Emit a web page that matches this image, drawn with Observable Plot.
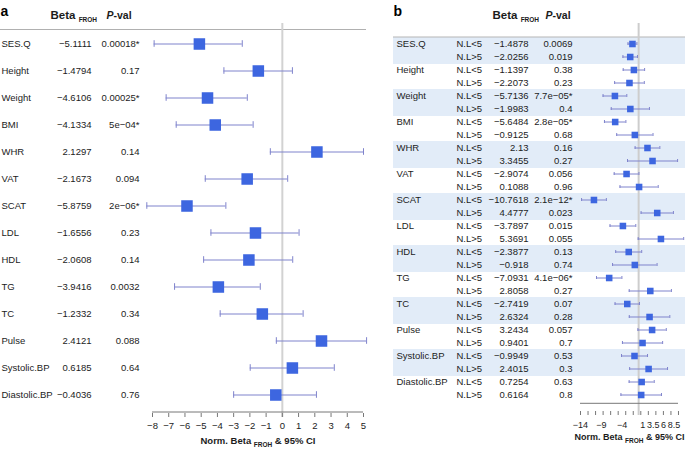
<!DOCTYPE html>
<html><head><meta charset="utf-8">
<script src="https://cdn.jsdelivr.net/npm/d3@7"></script>
<script src="https://cdn.jsdelivr.net/npm/@observablehq/plot@0.6"></script>
<style>
body{margin:0;background:#fff;}
#wrap{position:relative;width:685px;height:449px;overflow:hidden;font-family:"Liberation Sans",Arial,sans-serif;}
#pa{position:absolute;left:0;top:0;}
#pb{position:absolute;left:385px;top:0;}
</style></head><body><div id="wrap"><div id="pa"></div><div id="pb"></div></div>
<script>
// ---------- Panel a data ----------
const traitsA = ["SES.Q","Height","Weight","BMI","WHR","VAT","SCAT","LDL","HDL","TG","TC","Pulse","Systolic.BP","Diastolic.BP"];
const betaA = [-5.1111,-1.4794,-4.6106,-4.1334,2.1297,-2.1673,-5.8759,-1.6556,-2.0608,-3.9416,-1.2332,2.4121,0.6185,-0.4036];
const pvalA = ["0.00018*","0.17","0.00025*","5e\u221204*","0.14","0.094","2e\u221206*","0.23","0.14","0.0032","0.34","0.088","0.64","0.76"];
const loA = [-7.9,-3.6,-7.16,-6.54,-0.74,-4.75,-8.35,-4.4,-4.85,-6.64,-3.83,-0.37,-1.98,-3.0];
const hiA = [-2.47,0.62,-2.16,-1.8,5.0,0.33,-3.48,1.03,0.64,-1.36,1.28,5.19,3.2,2.1];
const ticksA = [-8,-7,-6,-5,-4,-3,-2,-1,0,1,2,3,4,5];

// ---------- Panel b data ----------
const groupsB = ["N.L<5","N.L>5"];
const betaB = [-1.4878,-2.0256,-1.1397,-2.2073,-5.7136,-1.9983,-5.6484,-0.9125,2.13,3.3455,-2.9074,0.1088,-10.7618,4.4777,-3.7897,5.3691,-2.3877,-0.918,-7.0931,2.8058,-2.7419,2.6324,3.2434,0.9401,-0.9949,2.4015,0.7254,0.6164];
const pvalB = ["0.0069","0.019","0.38","0.23","7.7e\u221205*","0.4","2.8e\u221205*","0.68","0.16","0.27","0.056","0.96","2.1e\u221212*","0.023","0.015","0.055","0.13","0.74","4.1e\u221206*","0.27","0.07","0.28","0.057","0.7","0.53","0.3","0.63","0.8"];
const loB = [-2.56,-3.78,-3.72,-5.78,-8.57,-6.6,-8.23,-5.28,-0.85,-2.68,-5.89,-4.49,-13.74,0.59,-6.89,-0.11,-5.52,-6.28,-10.15,-2.27,-5.68,-2.25,-0.17,-3.9,-4.12,-2.16,-2.29,-4.26];
const hiB = [-0.42,-0.28,1.44,1.36,-2.85,2.6,-3.07,3.46,5.11,9.38,0.07,4.71,-7.78,8.37,-0.69,10.85,0.74,4.44,-4.03,7.89,0.2,7.51,6.65,5.78,2.14,6.96,3.75,5.5];
const tickLabelsB = [-14,-9,-4,1,3.5,6,8.5];
const minorTicksB = d3.range(14).map(i => -14 + i * 1.815);

// ---------- styling ----------
const ink = "#1c1c1c";
const ciCol = "#7f83cc";
const sqCol = "#3d66e0";
const bandCol = "#e2ecf8";
const fmt = v => String(v).replace("-", "\u2212");
const font = "'Liberation Sans', Arial, sans-serif";

const rowsA = traitsA.map((t, i) => ({trait: t, beta: betaA[i], p: pvalA[i], lo: loA[i], hi: hiA[i]}));
const rowsB = [];
traitsA.forEach((t, i) => groupsB.forEach((g, j) => {
  const k = i * 2 + j;
  rowsB.push({trait: t, grp: g, key: t + "|" + g, idx: i, beta: betaB[k], p: pvalB[k], lo: loB[k], hi: hiB[k]});
}));
const keysB = rowsB.map(d => d.key);

const plotA = Plot.plot({
  width: 370, height: 449,
  marginLeft: 152, marginRight: 7, marginTop: 23, marginBottom: 32,
  style: {fontFamily: font, fontSize: "9.5px", color: ink, background: "transparent", overflow: "visible"},
  x: {domain: [-8, 5]},
  y: {type: "band", domain: traitsA, range: [24.1, 413.9], padding: 0, axis: null},
  marks: [
    Plot.ruleY([traitsA[0]], {dy: -14.5, insetLeft: -152, insetRight: -3, stroke: "#b0b0b0", strokeWidth: 1.2}),
    Plot.ruleX([0], {stroke: "#d2d2d2", strokeWidth: 2}),
    Plot.ruleY(rowsA, {y: "trait", x1: "lo", x2: "hi", stroke: ciCol, strokeWidth: 1}),
    Plot.tickX(rowsA, {x: "lo", y: "trait", stroke: ciCol, insetTop: 10.2, insetBottom: 10.2}),
    Plot.tickX(rowsA, {x: "hi", y: "trait", stroke: ciCol, insetTop: 10.2, insetBottom: 10.2}),
    Plot.dot(rowsA, {x: "beta", y: "trait", symbol: "square", r: 6.5, fill: sqCol, stroke: null}),
    Plot.text(rowsA, {y: "trait", text: "trait", frameAnchor: "left", dx: -151, textAnchor: "start", fill: ink}),
    Plot.text(rowsA, {y: "trait", text: d => fmt(d.beta), frameAnchor: "left", dx: -61, textAnchor: "end", fill: ink}),
    Plot.text(rowsA, {y: "trait", text: "p", frameAnchor: "left", dx: -13, textAnchor: "end", fill: ink}),
    Plot.text(["a"], {text: d => d, frameAnchor: "top-left", dx: -152, dy: -17.5, textAnchor: "start", fontWeight: "bold", fontSize: 14, fill: "#000"}),
    Plot.text(["Beta FROH"], {text: d => d, frameAnchor: "top-left", dx: -102, dy: -12.3, textAnchor: "start", fontWeight: "bold", fontSize: 11.5, fill: ink}),
    Plot.text(["P-val"], {text: d => d, frameAnchor: "top-left", dx: -46, dy: -12.3, textAnchor: "start", fontWeight: "bold", fontSize: 10.5, fill: ink}),
    Plot.ruleY([traitsA[traitsA.length - 1]], {dy: 17, stroke: "#777", strokeWidth: 1}),
    Plot.axisX({ticks: ticksA, tickSize: -4, tickFormat: () => "", stroke: "#777"}),
    Plot.axisX({ticks: ticksA, tickSize: 0, tickPadding: 5, tickFormat: fmt, fill: ink, fontSize: 9.5}),
    Plot.text(["Norm. Beta FROH & 95% CI"], {text: d => d, frameAnchor: "bottom", dy: 26, fontWeight: "bold", fontSize: 9.5, fill: ink})
  ]
});
document.getElementById("pa").append(plotA);

const plotB = Plot.plot({
  width: 300, height: 449,
  marginLeft: 195, marginRight: 7, marginTop: 23, marginBottom: 34,
  style: {fontFamily: font, fontSize: "9.5px", color: ink, background: "transparent", overflow: "visible"},
  x: {domain: [-14, 9.6]},
  y: {type: "band", domain: keysB, range: [23.7, 413.7], padding: 0, axis: null},
  marks: [
    Plot.ruleY(rowsB.filter(d => d.idx % 2 === 0), {y: "key", stroke: bandCol, strokeWidth: 14, insetLeft: -187, insetRight: -7}),
    Plot.ruleY([keysB[0]], {dy: -7, insetLeft: -187, insetRight: -7, stroke: "#b5b5b5", strokeWidth: 1.2}),
    Plot.ruleX([0], {stroke: "#cdcdcd", strokeWidth: 2}),
    Plot.ruleY(rowsB, {y: "key", x1: "lo", x2: "hi", stroke: ciCol, strokeWidth: 1}),
    Plot.tickX(rowsB, {x: "lo", y: "key", stroke: ciCol, insetTop: 5, insetBottom: 5}),
    Plot.tickX(rowsB, {x: "hi", y: "key", stroke: ciCol, insetTop: 5, insetBottom: 5}),
    Plot.dot(rowsB, {x: "beta", y: "key", symbol: "square", r: 3.7, fill: sqCol, stroke: null}),
    Plot.text(rowsB.filter(d => d.grp === groupsB[0]), {y: "key", text: "trait", frameAnchor: "left", dx: -184, textAnchor: "start", fill: ink}),
    Plot.text(rowsB, {y: "key", text: "grp", frameAnchor: "left", dx: -124, textAnchor: "start", fill: ink}),
    Plot.text(rowsB, {y: "key", text: d => fmt(d.beta), frameAnchor: "left", dx: -52, textAnchor: "end", fill: ink}),
    Plot.text(rowsB, {y: "key", text: "p", frameAnchor: "left", dx: -8, textAnchor: "end", fill: ink}),
    Plot.text(["b"], {text: d => d, frameAnchor: "top-left", dx: -187, dy: -17.5, textAnchor: "start", fontWeight: "bold", fontSize: 14, fill: "#000"}),
    Plot.text(["Beta FROH"], {text: d => d, frameAnchor: "top-left", dx: -88, dy: -12.3, textAnchor: "start", fontWeight: "bold", fontSize: 11.5, fill: ink}),
    Plot.text(["P-val"], {text: d => d, frameAnchor: "top-left", dx: -35, dy: -12.3, textAnchor: "start", fontWeight: "bold", fontSize: 10.5, fill: ink}),
    Plot.ruleY([keysB[keysB.length - 1]], {dy: 8.3, stroke: "#777", strokeWidth: 1}),
    Plot.axisX({ticks: minorTicksB, tickSize: -4, tickFormat: () => "", stroke: "#777"}),
    Plot.axisX({ticks: tickLabelsB, tickSize: 0, tickPadding: 6, tickFormat: fmt, fill: ink, fontSize: 9}),
    Plot.text(["Norm. Beta FROH & 95% CI"], {text: d => d, frameAnchor: "bottom", dy: 24, fontWeight: "bold", fontSize: 9, fill: ink})
  ]
});
document.getElementById("pb").append(plotB);

// rich text: subscript FROH and italic P
const NS = "http://www.w3.org/2000/svg";
function span(txt, attrs) {
  const s = document.createElementNS(NS, "tspan");
  s.textContent = txt;
  for (const k in attrs) s.setAttribute(k, attrs[k]);
  return s;
}
[plotA, plotB].forEach(svg => {
  svg.querySelectorAll("text").forEach(t => {
    if (t.querySelector("tspan")) return;
    const s = t.textContent;
    if (s.includes("FROH")) {
      const [a, b] = s.split("FROH");
      t.textContent = "";
      t.append(span(a, {}), span("FROH", {"font-size": "6.5", dy: "3"}));
      if (b) t.append(span(b, {dy: "-3"}));
    } else if (s === "P-val") {
      t.textContent = "";
      t.append(span("P", {"font-style": "italic"}), span("-val", {}));
    }
  });
});
</script>
</body></html>
